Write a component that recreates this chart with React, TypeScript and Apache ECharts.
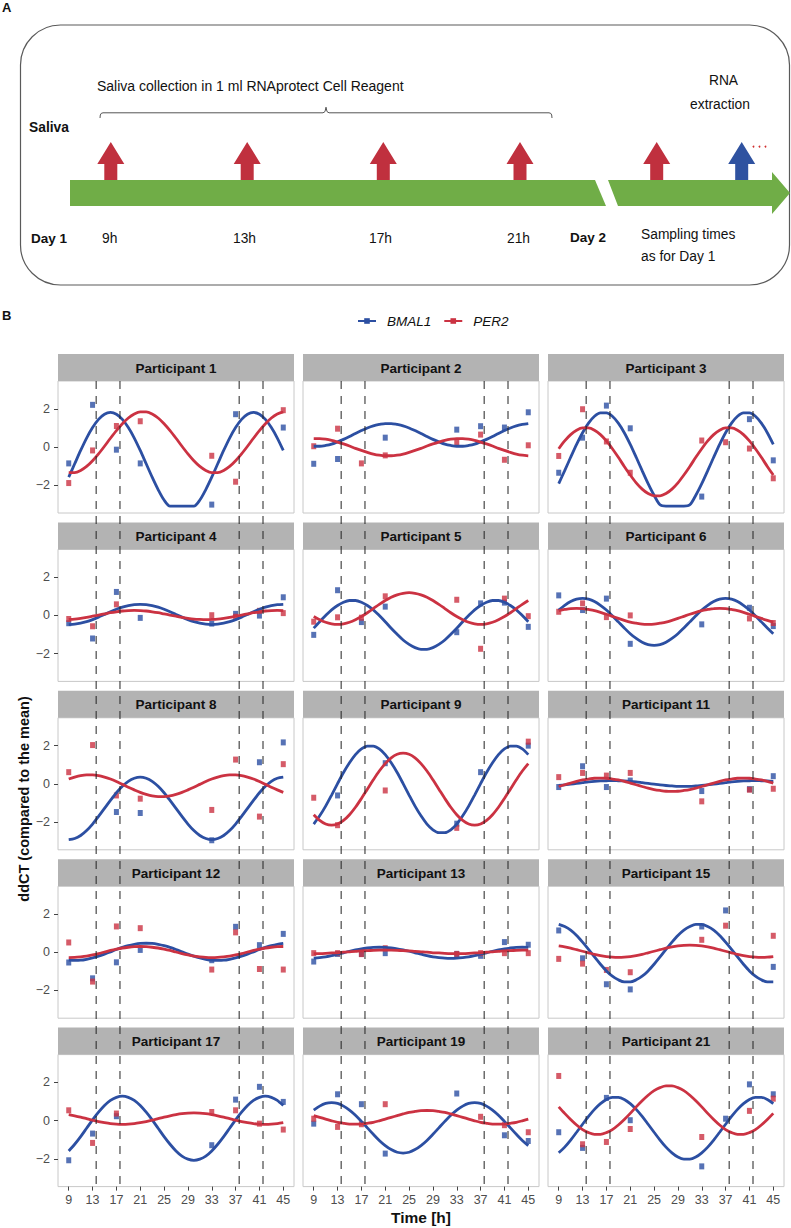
import React, { useEffect, useRef } from "react";
import * as echarts from "echarts";

const FONT = "'Liberation Sans', Arial, Helvetica, sans-serif";

// ---------- data ----------
const participants = [
  "Participant 1", "Participant 2", "Participant 3",
  "Participant 4", "Participant 5", "Participant 6",
  "Participant 8", "Participant 9", "Participant 11",
  "Participant 12", "Participant 13", "Participant 15",
  "Participant 17", "Participant 19", "Participant 21",
];
const geneNames = ["BMAL1", "PER2"];
const sampleTimes = [9, 13, 17, 21, 33, 37, 41, 45];

const bmal1Points = [
  [-0.86, 2.21, -0.14, -0.86, -3.02, 1.72, null, 1.02],
  [-0.88, -0.63, null, 0.49, 0.91, 1.09, 1.02, 1.82],
  [-1.35, 0.49, 2.17, 0.98, -2.6, null, 1.46, -0.7],
  [-0.41, -1.21, 1.23, -0.13, -0.43, 0.08, -0.01, 0.95],
  [-1.02, 1.32, -0.35, 0.46, -0.88, 0.63, 0.67, -0.6],
  [1.05, 0.28, 0.88, -1.49, -0.47, null, 0.4, -0.56],
  [null, null, -1.48, -1.53, -2.96, null, 1.13, 2.17],
  [null, -0.61, null, 1.08, -2.09, 0.61, null, 2.0],
  [-0.17, 0.92, -0.17, 0.17, -0.38, null, -0.28, 0.4],
  [-0.54, -1.37, -0.53, 0.12, -0.42, 1.33, 0.37, 0.96],
  [-0.49, -0.09, -0.09, -0.05, -0.09, -0.19, 0.53, 0.39],
  [1.14, -0.32, -1.68, -1.95, 1.35, 2.19, null, -0.77],
  [-2.08, -0.68, 0.23, null, -1.29, 1.1, 1.77, 0.98],
  [-0.16, 1.38, 0.86, -1.73, 1.42, null, -0.77, -1.07],
  [-0.61, -1.43, 1.19, 0.02, -2.4, 0.1, 1.9, 1.38],
];
const per2Points = [
  [-1.89, -0.18, 1.1, 1.35, -0.46, -1.82, null, 1.93],
  [0.04, 0.96, -0.86, -0.44, 0.23, 0.65, -0.67, 0.09],
  [-0.47, 1.98, 0.29, -1.35, 0.34, 0.25, -0.08, -1.64],
  [-0.19, -0.57, 0.58, null, 0.01, -0.07, 0.24, 0.12],
  [-0.33, -0.1, -0.12, 1.0, 0.82, -1.75, 0.88, -0.04],
  [0.19, 0.63, -0.09, 0.0, null, null, -0.16, -0.4],
  [0.61, 2.03, -0.61, -0.78, -1.37, 1.27, -1.72, 1.03],
  [-0.73, -2.17, null, -0.35, -2.31, null, null, 2.21],
  [0.35, 0.57, 0.43, 0.57, -0.92, null, -0.31, -0.26],
  [0.51, -1.54, 1.35, 1.26, -0.91, 1.04, -0.88, -0.91],
  [-0.05, -0.05, -0.1, 0.21, -0.09, -0.05, -0.05, -0.05],
  [-0.35, -0.6, -0.93, -1.05, 0.65, 1.39, null, 0.86],
  [0.54, -1.17, 0.37, null, 0.45, 0.54, -0.16, -0.47],
  [0.1, -0.33, -0.19, 0.86, null, 0.2, -0.24, -0.61],
  [2.34, -1.24, -1.12, -0.44, -0.86, null, 0.51, 1.15],
];

// fitted curves, read every hour from 9 h to 45 h
const curveTimes = [
  9, 10, 11, 12, 13, 14, 15, 16, 17, 18, 19, 20, 21, 22, 23, 24, 25, 26, 27,
  28, 29, 30, 31, 32, 33, 34, 35, 36, 37, 38, 39, 40, 41, 42, 43, 44, 45,
];
const bmal1Fit = [
  [-1.58, -0.88, -0.18, 0.47, 1.02, 1.45, 1.72, 1.81, 1.72, 1.45, 1.02, 0.47, -0.18, -0.88, -1.58, -2.23, -2.78, -3.1, -3.1, -3.1, -3.1, -3.1, -2.78, -2.23, -1.58, -0.88, -0.18, 0.47, 1.02, 1.45, 1.72, 1.81, 1.72, 1.45, 1.02, 0.47, -0.18],
  [0.04, 0.04, 0.08, 0.15, 0.27, 0.4, 0.55, 0.71, 0.86, 1.0, 1.11, 1.18, 1.23, 1.23, 1.18, 1.11, 1.0, 0.86, 0.71, 0.55, 0.4, 0.27, 0.15, 0.08, 0.04, 0.04, 0.08, 0.15, 0.27, 0.4, 0.55, 0.71, 0.86, 1.0, 1.11, 1.18, 1.23],
  [-1.92, -1.24, -0.54, 0.14, 0.75, 1.25, 1.61, 1.79, 1.79, 1.61, 1.25, 0.75, 0.14, -0.54, -1.24, -1.92, -2.53, -3.03, -3.1, -3.1, -3.1, -3.1, -3.03, -2.53, -1.92, -1.24, -0.54, 0.14, 0.75, 1.25, 1.61, 1.79, 1.79, 1.61, 1.25, 0.75, 0.14],
  [-0.48, -0.46, -0.41, -0.33, -0.22, -0.09, 0.05, 0.19, 0.32, 0.43, 0.51, 0.56, 0.58, 0.56, 0.51, 0.43, 0.32, 0.19, 0.05, -0.09, -0.22, -0.33, -0.41, -0.46, -0.48, -0.46, -0.41, -0.33, -0.22, -0.09, 0.05, 0.19, 0.32, 0.43, 0.51, 0.56, 0.58],
  [-0.67, -0.33, -0.01, 0.29, 0.52, 0.69, 0.78, 0.78, 0.69, 0.52, 0.29, -0.01, -0.33, -0.67, -0.99, -1.29, -1.52, -1.69, -1.78, -1.78, -1.69, -1.52, -1.29, -0.99, -0.67, -0.33, -0.01, 0.29, 0.52, 0.69, 0.78, 0.78, 0.69, 0.52, 0.29, -0.01, -0.33],
  [0.28, 0.53, 0.73, 0.85, 0.89, 0.85, 0.73, 0.53, 0.28, -0.02, -0.34, -0.66, -0.96, -1.21, -1.41, -1.53, -1.57, -1.53, -1.41, -1.21, -0.96, -0.66, -0.34, -0.02, 0.28, 0.53, 0.73, 0.85, 0.89, 0.85, 0.73, 0.53, 0.28, -0.02, -0.34, -0.66, -0.96],
  [-2.93, -2.87, -2.71, -2.45, -2.11, -1.71, -1.29, -0.87, -0.47, -0.13, 0.13, 0.29, 0.35, 0.29, 0.13, -0.13, -0.47, -0.87, -1.29, -1.71, -2.11, -2.45, -2.71, -2.87, -2.93, -2.87, -2.71, -2.45, -2.11, -1.71, -1.29, -0.87, -0.47, -0.13, 0.13, 0.29, 0.35],
  [-2.11, -1.68, -1.17, -0.59, 0.01, 0.59, 1.1, 1.53, 1.83, 1.98, 1.98, 1.83, 1.53, 1.1, 0.59, 0.01, -0.59, -1.17, -1.68, -2.11, -2.41, -2.56, -2.56, -2.41, -2.11, -1.68, -1.17, -0.59, 0.01, 0.59, 1.1, 1.53, 1.83, 1.98, 1.98, 1.83, 1.53],
  [-0.09, -0.06, -0.02, 0.02, 0.06, 0.1, 0.13, 0.15, 0.16, 0.17, 0.16, 0.15, 0.13, 0.1, 0.06, 0.02, -0.02, -0.06, -0.09, -0.11, -0.13, -0.13, -0.13, -0.11, -0.09, -0.06, -0.02, 0.02, 0.06, 0.1, 0.13, 0.15, 0.16, 0.17, 0.16, 0.15, 0.13],
  [-0.42, -0.43, -0.42, -0.37, -0.3, -0.21, -0.1, 0.02, 0.14, 0.25, 0.34, 0.41, 0.46, 0.47, 0.46, 0.41, 0.34, 0.25, 0.14, 0.02, -0.1, -0.21, -0.3, -0.37, -0.42, -0.43, -0.42, -0.37, -0.3, -0.21, -0.1, 0.02, 0.14, 0.25, 0.34, 0.41, 0.46],
  [-0.31, -0.28, -0.24, -0.18, -0.1, -0.03, 0.05, 0.12, 0.18, 0.22, 0.25, 0.26, 0.25, 0.22, 0.18, 0.12, 0.05, -0.03, -0.1, -0.18, -0.24, -0.28, -0.31, -0.32, -0.31, -0.28, -0.24, -0.18, -0.1, -0.03, 0.05, 0.12, 0.18, 0.22, 0.25, 0.26, 0.25],
  [1.46, 1.35, 1.16, 0.88, 0.53, 0.15, -0.25, -0.63, -0.98, -1.26, -1.45, -1.56, -1.56, -1.45, -1.26, -0.98, -0.63, -0.25, 0.15, 0.53, 0.88, 1.16, 1.35, 1.46, 1.46, 1.35, 1.16, 0.88, 0.53, 0.15, -0.25, -0.63, -0.98, -1.26, -1.45, -1.56, -1.56],
  [-1.59, -1.24, -0.84, -0.4, 0.04, 0.44, 0.79, 1.06, 1.22, 1.28, 1.22, 1.06, 0.79, 0.44, 0.04, -0.4, -0.84, -1.24, -1.59, -1.86, -2.02, -2.08, -2.02, -1.86, -1.59, -1.24, -0.84, -0.4, 0.04, 0.44, 0.79, 1.06, 1.22, 1.28, 1.22, 1.06, 0.79],
  [0.55, 0.76, 0.9, 0.94, 0.9, 0.76, 0.55, 0.28, -0.04, -0.38, -0.72, -1.04, -1.31, -1.52, -1.66, -1.7, -1.66, -1.52, -1.31, -1.04, -0.72, -0.38, -0.04, 0.28, 0.55, 0.76, 0.9, 0.94, 0.9, 0.76, 0.55, 0.28, -0.04, -0.38, -0.72, -1.04, -1.31],
  [-1.69, -1.39, -1.02, -0.61, -0.19, 0.22, 0.59, 0.89, 1.11, 1.22, 1.22, 1.11, 0.89, 0.59, 0.22, -0.19, -0.61, -1.02, -1.39, -1.69, -1.91, -2.02, -2.02, -1.91, -1.69, -1.39, -1.02, -0.61, -0.19, 0.22, 0.59, 0.89, 1.11, 1.22, 1.22, 1.11, 0.89],
];
const per2Fit = [
  [-1.34, -1.34, -1.23, -1.02, -0.72, -0.36, 0.04, 0.46, 0.86, 1.22, 1.52, 1.73, 1.84, 1.84, 1.73, 1.52, 1.22, 0.86, 0.46, 0.04, -0.36, -0.72, -1.02, -1.23, -1.34, -1.34, -1.23, -1.02, -0.72, -0.36, 0.04, 0.46, 0.86, 1.22, 1.52, 1.73, 1.84],
  [0.44, 0.44, 0.41, 0.35, 0.26, 0.16, 0.05, -0.07, -0.18, -0.28, -0.37, -0.43, -0.46, -0.46, -0.43, -0.37, -0.28, -0.18, -0.07, 0.05, 0.16, 0.26, 0.35, 0.41, 0.44, 0.44, 0.41, 0.35, 0.26, 0.16, 0.05, -0.07, -0.18, -0.28, -0.37, -0.43, -0.46],
  [-0.09, 0.32, 0.65, 0.88, 1.0, 1.0, 0.88, 0.65, 0.32, -0.09, -0.54, -1.02, -1.47, -1.88, -2.21, -2.44, -2.56, -2.56, -2.44, -2.21, -1.88, -1.47, -1.02, -0.54, -0.09, 0.32, 0.65, 0.88, 1.0, 1.0, 0.88, 0.65, 0.32, -0.09, -0.54, -1.02, -1.47],
  [-0.21, -0.19, -0.15, -0.1, -0.04, 0.02, 0.08, 0.14, 0.19, 0.23, 0.25, 0.26, 0.25, 0.23, 0.19, 0.14, 0.08, 0.02, -0.04, -0.1, -0.15, -0.19, -0.21, -0.22, -0.21, -0.19, -0.15, -0.1, -0.04, 0.02, 0.08, 0.14, 0.19, 0.23, 0.25, 0.26, 0.25],
  [-0.06, -0.23, -0.36, -0.44, -0.47, -0.44, -0.36, -0.23, -0.06, 0.14, 0.36, 0.58, 0.78, 0.95, 1.08, 1.16, 1.19, 1.16, 1.08, 0.95, 0.78, 0.58, 0.36, 0.14, -0.06, -0.23, -0.36, -0.44, -0.47, -0.44, -0.36, -0.23, -0.06, 0.14, 0.36, 0.58, 0.78],
  [0.25, 0.31, 0.36, 0.37, 0.36, 0.31, 0.25, 0.16, 0.06, -0.05, -0.16, -0.26, -0.35, -0.41, -0.46, -0.47, -0.46, -0.41, -0.35, -0.26, -0.16, -0.05, 0.06, 0.16, 0.25, 0.31, 0.36, 0.37, 0.36, 0.31, 0.25, 0.16, 0.06, -0.05, -0.16, -0.26, -0.35],
  [0.25, 0.35, 0.43, 0.47, 0.47, 0.43, 0.35, 0.25, 0.12, -0.03, -0.18, -0.32, -0.45, -0.55, -0.63, -0.67, -0.67, -0.63, -0.55, -0.45, -0.32, -0.18, -0.03, 0.12, 0.25, 0.35, 0.43, 0.47, 0.47, 0.43, 0.35, 0.25, 0.12, -0.03, -0.18, -0.32, -0.45],
  [-1.62, -1.92, -2.11, -2.17, -2.11, -1.92, -1.62, -1.23, -0.77, -0.28, 0.21, 0.67, 1.06, 1.36, 1.55, 1.61, 1.55, 1.36, 1.06, 0.67, 0.21, -0.28, -0.77, -1.23, -1.62, -1.92, -2.11, -2.17, -2.11, -1.92, -1.62, -1.23, -0.77, -0.28, 0.21, 0.67, 1.06],
  [-0.14, -0.05, 0.04, 0.13, 0.2, 0.25, 0.29, 0.3, 0.29, 0.25, 0.2, 0.13, 0.04, -0.05, -0.14, -0.23, -0.3, -0.35, -0.39, -0.4, -0.39, -0.35, -0.3, -0.23, -0.14, -0.05, 0.04, 0.13, 0.2, 0.25, 0.29, 0.3, 0.29, 0.25, 0.2, 0.13, 0.04],
  [-0.28, -0.27, -0.24, -0.2, -0.14, -0.07, 0.01, 0.09, 0.16, 0.22, 0.26, 0.29, 0.3, 0.29, 0.26, 0.22, 0.16, 0.09, 0.01, -0.07, -0.14, -0.2, -0.24, -0.27, -0.28, -0.27, -0.24, -0.2, -0.14, -0.07, 0.01, 0.09, 0.16, 0.22, 0.26, 0.29, 0.3],
  [-0.07, -0.07, -0.06, -0.04, -0.03, 0.0, 0.02, 0.04, 0.07, 0.08, 0.1, 0.11, 0.11, 0.11, 0.1, 0.08, 0.07, 0.04, 0.02, 0.0, -0.03, -0.04, -0.06, -0.07, -0.07, -0.07, -0.06, -0.04, -0.03, 0.0, 0.02, 0.04, 0.07, 0.08, 0.1, 0.11, 0.11],
  [0.33, 0.28, 0.21, 0.13, 0.05, -0.03, -0.11, -0.18, -0.23, -0.26, -0.27, -0.26, -0.23, -0.18, -0.11, -0.03, 0.05, 0.13, 0.21, 0.28, 0.33, 0.36, 0.37, 0.36, 0.33, 0.28, 0.21, 0.13, 0.05, -0.03, -0.11, -0.18, -0.23, -0.26, -0.27, -0.26, -0.23],
  [0.31, 0.25, 0.18, 0.1, 0.02, -0.05, -0.11, -0.16, -0.19, -0.2, -0.19, -0.16, -0.11, -0.05, 0.02, 0.1, 0.18, 0.25, 0.31, 0.36, 0.39, 0.4, 0.39, 0.36, 0.31, 0.25, 0.18, 0.1, 0.02, -0.05, -0.11, -0.16, -0.19, -0.2, -0.19, -0.16, -0.11],
  [0.26, 0.17, 0.08, -0.01, -0.09, -0.14, -0.18, -0.19, -0.18, -0.14, -0.09, -0.01, 0.08, 0.17, 0.26, 0.35, 0.43, 0.48, 0.52, 0.53, 0.52, 0.48, 0.43, 0.35, 0.26, 0.17, 0.08, -0.01, -0.09, -0.14, -0.18, -0.19, -0.18, -0.14, -0.09, -0.01, 0.08],
  [0.72, 0.38, 0.06, -0.23, -0.47, -0.63, -0.72, -0.72, -0.63, -0.47, -0.23, 0.06, 0.38, 0.72, 1.04, 1.33, 1.57, 1.73, 1.82, 1.82, 1.73, 1.57, 1.33, 1.04, 0.72, 0.38, 0.06, -0.23, -0.47, -0.63, -0.72, -0.72, -0.63, -0.47, -0.23, 0.06, 0.38],
];

const xTicks = [9, 13, 17, 21, 25, 29, 33, 37, 41, 45];
const yTicks = [-2, 0, 2];
const samplingLines = [13.6, 17.6, 37.6, 41.6];

// timeline (panel A)
const dayOneLabels = ["9h", "13h", "17h", "21h"];

// ---------- layout / style ----------
const COLORS = ["#2C4FA2", "#CB3242"];
const COL_LEFT = [58, 303, 548];
const PANEL_W = 236;
const PLOT_TOP0 = 381;
const ROW_STEP = 168.4;
const PLOT_H = 132;
const STRIP_H = 27;

function txt(text: string, x: number, y: number, opts: any = {}) {
  return {
    type: "text",
    x,
    y,
    silent: true,
    z: 6,
    rotation: opts.rotation || 0,
    style: {
      text,
      fontFamily: FONT,
      fontSize: opts.size || 14,
      fontWeight: opts.bold ? "bold" : "normal",
      fill: opts.color || "#111",
      align: opts.align || "left",
      verticalAlign: "middle",
    },
  };
}

function upArrow(cx: number, color: string) {
  return {
    type: "polygon",
    silent: true,
    z: 4,
    shape: {
      points: [
        [cx - 6.5, 180], [cx - 6.5, 164], [cx - 13.5, 164], [cx, 142],
        [cx + 13.5, 164], [cx + 6.5, 164], [cx + 6.5, 180],
      ],
    },
    style: { fill: color },
  };
}

export default function App() {
  const ref = useRef<HTMLDivElement>(null);

  useEffect(() => {
    const el = ref.current;
    if (!el) return;
    const chart = echarts.init(el, undefined, { renderer: "svg" });

    const grids: any[] = [];
    const xAxes: any[] = [];
    const yAxes: any[] = [];
    const lineSeries: any[] = [];
    const pointSeries: any[] = [];

    participants.forEach((name, i) => {
      const r = Math.floor(i / 3);
      const c = i % 3;
      grids.push({
        left: COL_LEFT[c],
        top: PLOT_TOP0 + r * ROW_STEP,
        width: PANEL_W,
        height: PLOT_H,
        show: true,
        backgroundColor: "#ffffff",
        borderColor: "#c8c8c8",
        borderWidth: 1,
        containLabel: false,
      });
      xAxes.push({
        type: "value",
        gridIndex: i,
        position: "bottom",
        min: 7.2,
        max: 46.8,
        splitLine: { show: false },
        axisLine: { show: false, onZero: false },
        axisTick: { show: r === 4, length: 4, customValues: xTicks, lineStyle: { color: "#444" } },
        axisLabel: {
          show: r === 4,
          customValues: xTicks,
          fontSize: 12.5,
          color: "#4d4d4d",
          fontFamily: FONT,
          margin: 7,
        },
        name: r === 4 && c === 1 ? "Time [h]" : "",
        nameLocation: "middle",
        nameGap: 23,
        nameTextStyle: { fontSize: 15.5, fontWeight: "bold", color: "#111", fontFamily: FONT },
      });
      yAxes.push({
        type: "value",
        gridIndex: i,
        position: "left",
        min: -3.46,
        max: 3.46,
        splitLine: { show: false },
        axisLine: { show: false, onZero: false },
        axisTick: { show: c === 0, length: 4, customValues: yTicks, lineStyle: { color: "#444" } },
        axisLabel: {
          show: c === 0,
          customValues: yTicks,
          fontSize: 12.5,
          color: "#4d4d4d",
          fontFamily: FONT,
          margin: 8,
          formatter: (v: number) => (v < 0 ? "\u2212" + Math.abs(v) : String(v)),
        },
      });

      [bmal1Fit, per2Fit].forEach((fit, g) => {
        lineSeries.push({
          type: "line",
          name: geneNames[g],
          xAxisIndex: i,
          yAxisIndex: i,
          data: curveTimes.map((t, k) => [t, fit[i][k]]),
          smooth: 0.3,
          symbol: "rect",
          symbolSize: 5,
          showSymbol: false,
          lineStyle: { width: 2.8, color: COLORS[g] },
          itemStyle: { color: COLORS[g] },
          z: 3,
          silent: true,
        });
      });
      [bmal1Points, per2Points].forEach((pts, g) => {
        pointSeries.push({
          type: "scatter",
          name: geneNames[g],
          xAxisIndex: i,
          yAxisIndex: i,
          data: sampleTimes
            .map((t, k) => [t, pts[i][k]])
            .filter((p) => p[1] !== null),
          symbol: "rect",
          symbolSize: [5, 6],
          itemStyle: { color: COLORS[g] },
          z: 2,
          silent: true,
        });
      });
    });

    chart.setOption({
      animation: false,
      textStyle: { fontFamily: FONT },
      legend: {
        data: geneNames,
        left: 352,
        top: 309,
        itemWidth: 18,
        itemHeight: 7,
        itemGap: 12,
        selectedMode: false,
        textStyle: { fontStyle: "italic", fontSize: 13.5, color: "#111", fontFamily: FONT, padding: [0, 0, 0, 6] },
      },
      grid: grids,
      xAxis: xAxes,
      yAxis: yAxes,
      series: [...lineSeries, ...pointSeries],
    });

    // ----- static graphics (panel A, strips, titles) -----
    const els: any[] = [];
    els.push({
      type: "rect",
      silent: true,
      z: 1,
      shape: { x: 20.5, y: 25, width: 769, height: 260, r: 40 },
      style: { fill: "none", stroke: "#5a5a5a", lineWidth: 1.2 },
    });
    els.push({
      type: "polygon",
      silent: true,
      z: 3,
      shape: { points: [[70, 180], [595, 180], [606, 206], [70, 206]] },
      style: { fill: "#70AD47" },
    });
    els.push({
      type: "polygon",
      silent: true,
      z: 3,
      shape: {
        points: [[608, 180], [772, 180], [772, 172], [790, 193], [772, 214], [772, 206], [618, 206]],
      },
      style: { fill: "#70AD47" },
    });
    [110.8, 247.2, 383.3, 520, 656.7].forEach((cx) => els.push(upArrow(cx, "#C0303E")));
    els.push(upArrow(741.7, "#2F52A0"));
    [753.5, 759.5, 765.5].forEach((cx) =>
      els.push({ type: "circle", silent: true, z: 4, shape: { cx, cy: 146.6, r: 0.9 }, style: { fill: "#D03030" } })
    );
    els.push({
      type: "polyline",
      silent: true,
      z: 3,
      shape: {
        points: [
          [100, 118], [100.3, 115], [101.2, 113.4], [103, 112.8],
          [323, 112.8], [325, 111.6], [326, 107.2], [327, 111.6], [329, 112.8],
          [549, 112.8], [550.8, 113.4], [551.7, 115], [552, 118],
        ],
      },
      style: { stroke: "#555", lineWidth: 1, fill: "none" },
    });
    els.push(txt("A", 2, 7, { bold: true, size: 13 }));
    els.push(txt("Saliva collection in 1 ml RNAprotect Cell Reagent", 97, 86, { size: 14 }));
    els.push(txt("Saliva", 29, 127, { bold: true, size: 13.8 }));
    els.push(txt("Day 1", 31, 238, { bold: true, size: 13.5 }));
    [102, 233, 369, 507].forEach((x, k) => els.push(txt(dayOneLabels[k], x, 238, { size: 13.8 })));
    els.push(txt("Day 2", 570, 237, { bold: true, size: 13.5 }));
    els.push(txt("Sampling times", 641, 234, { size: 13.8 }));
    els.push(txt("as for Day 1", 641, 256, { size: 13.8 }));
    els.push(txt("RNA", 723.5, 80, { size: 13.8, align: "center" }));
    els.push(txt("extraction", 720, 104, { size: 13.8, align: "center" }));
    els.push(txt("B", 2, 315, { bold: true, size: 13 }));
    els.push(
      txt("ddCT (compared to the mean)", 24, 799, { bold: true, size: 14.5, align: "center", rotation: Math.PI / 2 })
    );

    participants.forEach((name, i) => {
      const r = Math.floor(i / 3);
      const c = i % 3;
      const top = PLOT_TOP0 + r * ROW_STEP - STRIP_H;
      els.push({
        type: "rect",
        silent: true,
        z: 2,
        shape: { x: COL_LEFT[c], y: top, width: PANEL_W, height: STRIP_H },
        style: { fill: "#B3B3B3" },
      });
      els.push(txt(name, COL_LEFT[c] + PANEL_W / 2, top + STRIP_H / 2 + 0.5, { bold: true, size: 13.5, align: "center", color: "#111" }));
    });

    // dashed sampling-time lines across all rows, positioned through the x scales
    const yTop = PLOT_TOP0;
    const yBottom = PLOT_TOP0 + 4 * ROW_STEP + PLOT_H;
    for (let c = 0; c < 3; c++) {
      samplingLines.forEach((v) => {
        const px = chart.convertToPixel({ xAxisIndex: c }, v) as number;
        els.push({
          type: "line",
          silent: true,
          z: 10,
          shape: { x1: px, y1: yTop, x2: px, y2: yBottom },
          style: { stroke: "#222", lineWidth: 1, lineDash: [8, 7] },
        });
      });
    }

    chart.setOption({ graphic: { elements: els } });

    return () => {
      chart.dispose();
    };
  }, []);

  return (
    <div
      ref={ref}
      style={{ position: "absolute", left: 0, top: 0, width: 791, height: 1228 }}
    />
  );
}
